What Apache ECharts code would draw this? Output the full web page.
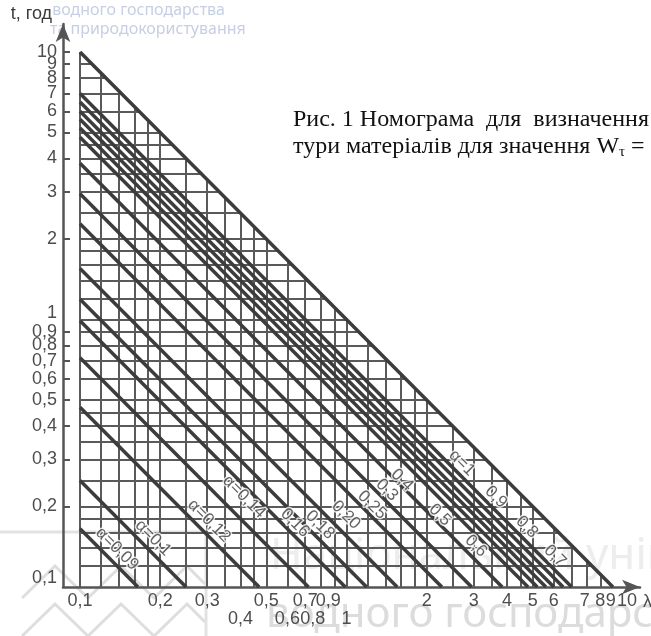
<!DOCTYPE html>
<html lang="uk">
<head>
<meta charset="utf-8">
<title>Номограма</title>
<script src="https://cdn.jsdelivr.net/npm/echarts@6.0.0/dist/echarts.min.js"></script>
<style>
  html, body { margin: 0; padding: 0; background: #fff; }
  #chart { width: 651px; height: 636px; }
</style>
</head>
<body>
<div id="chart"></div>
<script>
// Grid values shared by both logarithmic axes (λ and t)
const gridValues = [0.1, 0.12, 0.14, 0.16, 0.18, 0.2, 0.25, 0.3, 0.35, 0.4, 0.45, 0.5,
  0.6, 0.7, 0.8, 0.9, 1, 1.2, 1.4, 1.6, 1.8, 2, 2.5, 3, 3.5, 4, 4.5, 5, 6, 7, 8, 9, 10];

// α lines: every line is t·λ = const on the log-log field
const alphaNames = ['α=0,09', 'α=0,1', 'α=0,12', 'α=0,14', '0,16', '0,18', '0,20', '0,25',
  '0,3', '0,4', '0,5', '0,6', '0,7', '0,8', '0,9', 'α=1'];
const alphaProducts = [0.0165, 0.025, 0.047, 0.072, 0.099, 0.119, 0.155, 0.228,
  0.295, 0.384, 0.48, 0.52, 0.56, 0.60, 0.65, 0.70];

// where each α caption sits (λ, t)
const alphaLabelLambda = [0.1377, 0.188, 0.305, 0.4125, 0.641, 0.7955, 0.995, 1.247,
  1.419, 1.616, 2.243, 3.062, 6.06, 4.755, 3.64, 2.713];
const alphaLabelT = [0.1387, 0.1525, 0.1765, 0.217, 0.1735, 0.1705, 0.1858, 0.2025,
  0.2305, 0.2512, 0.1858, 0.1423, 0.1306, 0.1676, 0.217, 0.2908];

// outer limit of the nomogram field: t·λ = 1
const limitProduct = 1;

// axis labels and ticks
const xLabelValues = [0.1, 0.2, 0.3, 0.4, 0.5, 0.6, 0.7, 0.8, 0.9, 1, 2, 3, 4, 5, 6, 7, 8, 9, 10];
const yLabelValues = [0.1, 0.2, 0.3, 0.4, 0.5, 0.6, 0.7, 0.8, 0.9, 1, 2, 3, 4, 5, 6, 7, 8, 9, 10];
const yTickValues = [0.2, 0.3, 0.4, 0.5, 0.6, 0.7, 0.8, 0.9, 2, 3, 4, 5, 6, 7, 8, 9, 10];
const xSecondRow = ['0,4', '0,6', '0,8', '1'];

// ---------------------------------------------------------------------------
const LO = 0.1;
const AXIS_FONT = '"Liberation Sans", Arial, sans-serif';
const INK = '#4d4d4d';

function fmtNum(v) {
  const r = Math.round(v * 100) / 100;
  if (r >= 1) return String(Math.round(r));
  return r.toFixed(1).replace('.', ',');
}

// The densely packed labels at the top of each scale would be thinned out by the
// first/last-label overlap check, so the list is handed over with the end values
// moved next to the start (the order has no effect on where labels are drawn).
const xLabelOrder = [xLabelValues[0]].concat(xLabelValues.slice(-4).reverse(), xLabelValues.slice(1, -4));
const yLabelOrder = [yLabelValues[0]].concat(yLabelValues.slice(1).reverse());

// horizontal nudges for crowded λ labels (px)
const xShift = { '7': 13, '8': 13, '9': 10, '10': 14, '0,8': -8, '0,9': -6 };
// vertical nudges for t labels (px, upward)
const yRaise = { '1': 6, '0,1': 9 };

const xText = { fontSize: 18, color: INK, fontFamily: AXIS_FONT, lineHeight: 18 };
const yText = { fontSize: 18, color: INK, fontFamily: AXIS_FONT, lineHeight: 14 };
const xRich = {};
Object.keys(xShift).forEach(k => {
  const s = xShift[k];
  const key = (s > 0 ? 'r' : 'l') + Math.abs(s);
  xRich[key] = Object.assign({}, xText, {
    padding: s > 0 ? [0, 0, 0, 2 * s] : [0, -2 * s, 0, 0]
  });
});
const yRich = {};
Object.keys(yRaise).forEach(k => {
  yRich['u' + yRaise[k]] = Object.assign({}, yText, { padding: [0, 0, 2 * yRaise[k], 0] });
});

// segments of the grid, clipped by the limit line
const gridSegments = [];
gridValues.forEach(v => {
  gridSegments.push({ coords: [[v, LO], [v, limitProduct / v]] });
  if (v > LO) gridSegments.push({ coords: [[LO, v], [limitProduct / v, v]] });
});
const alphaSegments = alphaProducts.map(c => ({ coords: [[LO, c / LO], [c / LO, LO]] }));
const limitSegment = [{ coords: [[LO, limitProduct / LO], [limitProduct / LO, LO]] }];

// axis extents: left/top margins keep the arrows and the y axis line clear of the field
const X_MIN = 0.08633, X_MAX = 12.63, Y_MAX = 12.72;

const chart = echarts.init(document.getElementById('chart'), null, { renderer: 'canvas' });

const option = {
  animation: false,
  backgroundColor: '#fff',
  grid: { left: 63, right: 11, top: 24, bottom: 49, outerBoundsMode: 'none' },
  xAxis: {
    type: 'log', logBase: 10, min: X_MIN, max: X_MAX,
    axisLine: {
      show: true, symbol: ['none', 'arrow'], symbolSize: [11, 18],
      lineStyle: { color: '#555', width: 2.5 }
    },
    axisTick: { show: false },
    minorTick: { show: false },
    splitLine: { show: false },
    axisLabel: {
      customValues: xLabelOrder,
      showMinLabel: true, showMaxLabel: true, hideOverlap: false,
      margin: 5,
      fontSize: 18, color: INK, fontFamily: AXIS_FONT, lineHeight: 18,
      formatter: v => {
        const s = fmtNum(v);
        const sh = xShift[s];
        const body = sh ? '{' + (sh > 0 ? 'r' : 'l') + Math.abs(sh) + '|' + s + '}' : s;
        return xSecondRow.indexOf(s) >= 0 ? '\n' + body : body;
      },
      rich: xRich
    },
    name: 'λ', nameLocation: 'end', nameGap: -3,
    nameTextStyle: { fontSize: 18, color: INK, fontFamily: AXIS_FONT, align: 'left', verticalAlign: 'top', padding: [6, 0, 0, 0] }
  },
  yAxis: {
    type: 'log', logBase: 10, min: LO, max: Y_MAX,
    axisLine: {
      show: true, symbol: ['none', 'arrow'], symbolSize: [11, 18],
      lineStyle: { color: '#555', width: 2.5 }
    },
    axisTick: { show: true, inside: true, length: 7, customValues: yTickValues, lineStyle: { color: '#555', width: 2 } },
    minorTick: { show: false },
    splitLine: { show: false },
    axisLabel: {
      customValues: yLabelOrder,
      showMinLabel: true, showMaxLabel: true, hideOverlap: false,
      margin: 6,
      fontSize: 18, color: INK, fontFamily: AXIS_FONT, lineHeight: 14,
      formatter: v => {
        const s = fmtNum(v);
        return yRaise[s] ? '{u' + yRaise[s] + '|' + s + '}' : s;
      },
      rich: yRich
    },
    name: 't, год', nameLocation: 'end', nameGap: 10,
    nameTextStyle: { fontSize: 18, color: '#3c3c3c', fontFamily: AXIS_FONT, align: 'right', verticalAlign: 'middle', padding: [0, 11, 0, 0] }
  },
  graphic: [
    // faint library watermark
    { type: 'text', z: 0, silent: true, left: 270, top: 534,
      style: { text: 'Національний університет', fill: '#ededed', font: '44px "Noto Sans", sans-serif' } },
    { type: 'text', z: 0, silent: true, left: 266, top: 594,
      style: { text: 'водного господарства', fill: '#dcdcdc', font: '42px "Noto Sans", sans-serif' } },
    { type: 'text', z: 0, silent: true, right: 426, top: 2,
      style: { text: 'водного господарства', fill: '#c6cfe3', font: '16px "Noto Sans", sans-serif' } },
    { type: 'text', z: 0, silent: true, left: 50, top: 21,
      style: { text: 'та природокористування', fill: '#c6cfe3', font: '16px "Noto Sans", sans-serif' } },
    { type: 'polyline', z: 0, silent: true,
      shape: { points: [[22, 598], [55, 566], [88, 598], [121, 566], [154, 598], [187, 566], [205, 584]] },
      style: { stroke: '#dedede', lineWidth: 3, fill: null } },
    { type: 'polyline', z: 0, silent: true,
      shape: { points: [[22, 636], [55, 604], [88, 636], [121, 604], [154, 636], [187, 604], [205, 622]] },
      style: { stroke: '#dedede', lineWidth: 3, fill: null } },
    { type: 'line', z: 0, silent: true, shape: { x1: 206, y1: 532, x2: 206, y2: 636 },
      style: { stroke: '#e2e2e2', lineWidth: 3 } },
    { type: 'line', z: 0, silent: true, shape: { x1: 0, y1: 532, x2: 206, y2: 532 },
      style: { stroke: '#e2e2e2', lineWidth: 3 } },
    // caption
    { type: 'text', z: 10, left: 293, top: 108,
      style: { text: 'Рис. 1 Номограма  для  визначення', fill: '#111', font: '24px "Liberation Serif", serif' } },
    { type: 'text', z: 10, left: 293, top: 135,
      style: {
        text: 'тури матеріалів для значення W{s|τ} =',
        fill: '#111', font: '24px "Liberation Serif", serif',
        rich: { s: { fontSize: 15, fontFamily: '"Liberation Serif", serif', fill: '#111', padding: [11, 0, 0, 0] } }
      } }
  ],
  series: [
    {
      name: 'grid', type: 'lines', coordinateSystem: 'cartesian2d', silent: true, z: 2,
      lineStyle: { color: '#5a5a5a', width: 2, opacity: 1 },
      data: gridSegments
    },
    {
      name: 'limit', type: 'lines', coordinateSystem: 'cartesian2d', silent: true, z: 3,
      lineStyle: { color: '#3c3c3c', width: 3.5, opacity: 1 },
      data: limitSegment
    },
    {
      name: 'alpha', type: 'lines', coordinateSystem: 'cartesian2d', silent: true, z: 3,
      lineStyle: { color: '#3c3c3c', width: 3.5, opacity: 1 },
      data: alphaSegments
    },
    {
      name: 'alpha captions', type: 'scatter', silent: true, z: 5,
      symbolSize: 1, itemStyle: { color: 'transparent' },
      label: {
        show: true, position: 'inside', rotate: -45,
        formatter: p => p.name,
        fontSize: 17, color: '#3c3c3c', fontFamily: AXIS_FONT,
        textBorderColor: '#fff', textBorderWidth: 3
      },
      data: alphaNames.map((n, i) => ({ name: n, value: [alphaLabelLambda[i], alphaLabelT[i]] }))
    }
  ]
};

chart.setOption(option);
</script>
</body>
</html>
